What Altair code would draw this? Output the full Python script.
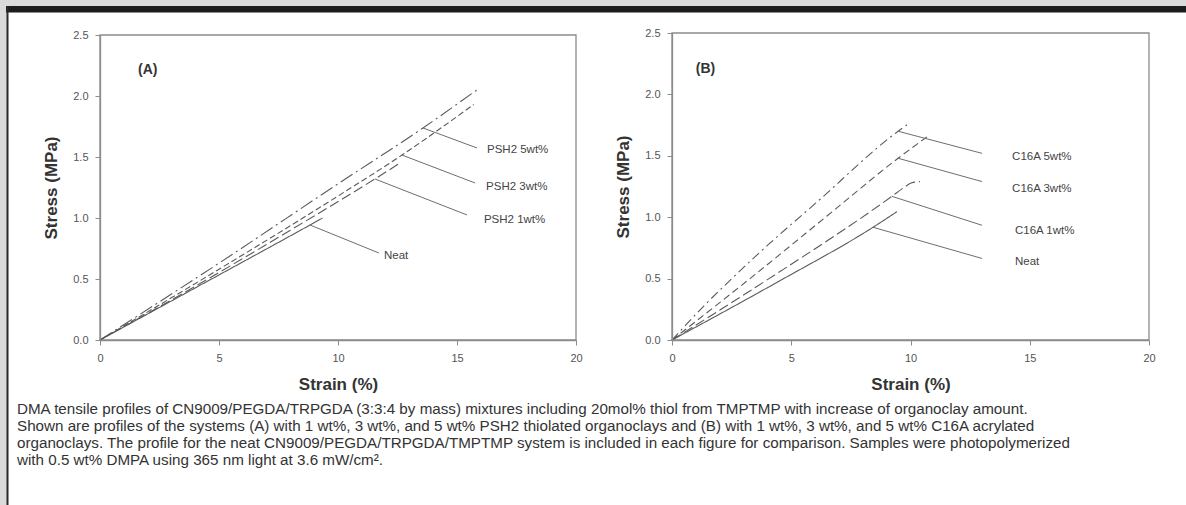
import altair as alt
import pandas as pd

# ---------------- data ----------------
STRAIN_TICKS = [0, 5, 10, 15, 20]
STRESS_TICKS = [0.0, 0.5, 1.0, 1.5, 2.0, 2.5]

# Panel (A)
A_NAMES = ["Neat", "PSH2 1wt%", "PSH2 3wt%", "PSH2 5wt%"]
A_NEAT_X = [0, 3, 6, 8.8, 9.35]
A_NEAT_Y = [0, 0.32, 0.64, 0.94, 1.00]
A_1_X = [0, 4, 8, 11.55, 12.6]
A_1_Y = [0, 0.44, 0.90, 1.32, 1.45]
A_3_X = [0, 5, 10, 12.69, 15.7]
A_3_Y = [0, 0.58, 1.18, 1.516, 1.93]
A_5_X = [0, 5, 10, 13.57, 15.84]
A_5_Y = [0, 0.63, 1.28, 1.738, 2.05]
A_LEAD_X = [8.82, 11.55, 12.69, 13.57]
A_LEAD_Y = [0.943, 1.320, 1.516, 1.738]
A_LEAD_X2 = [11.72, 15.42, 15.76, 15.84]
A_LEAD_Y2 = [0.713, 1.025, 1.287, 1.574]
A_LABEL_X = [11.93, 16.13, 16.22, 16.26]
A_LABEL_Y = [0.689, 0.984, 1.254, 1.557]

# Panel (B)
B_NAMES = ["Neat", "C16A 1wt%", "C16A 3wt%", "C16A 5wt%"]
B_NEAT_X = [0, 4.5, 8.43, 9.43]
B_NEAT_Y = [0, 0.48, 0.918, 1.045]
B_1_X = [0, 4.07, 9.22, 9.75, 10.05, 10.4]
B_1_Y = [0, 0.50, 1.17, 1.245, 1.28, 1.29]
B_3_X = [0, 3.27, 6.5, 9.48, 10.8]
B_3_Y = [0, 0.50, 1.01, 1.48, 1.67]
B_5_X = [0, 1.2, 2.4, 4.0, 6.0, 9.48, 9.98]
B_5_Y = [0, 0.25, 0.48, 0.77, 1.11, 1.70, 1.77]
B_LEAD_X = [8.43, 9.22, 9.48, 9.48]
B_LEAD_Y = [0.918, 1.17, 1.48, 1.70]
B_LEAD_X2 = [13.0, 13.0, 13.0, 13.0]
B_LEAD_Y2 = [0.664, 0.934, 1.29, 1.52]
B_LABEL_X = [14.38, 14.38, 14.26, 14.26]
B_LABEL_Y = [0.639, 0.885, 1.23, 1.49]

CAPTION = [
    "DMA tensile profiles of CN9009/PEGDA/TRPGDA (3:3:4 by mass) mixtures including 20mol% thiol from TMPTMP with increase of organoclay amount.",
    "Shown are profiles of the systems (A) with 1 wt%, 3 wt%, and 5 wt% PSH2 thiolated organoclays and (B) with 1 wt%, 3 wt%, and 5 wt% C16A acrylated",
    "organoclays. The profile for the neat CN9009/PEGDA/TRPGDA/TMPTMP system is included in each figure for comparison. Samples were photopolymerized",
    "with 0.5 wt% DMPA using 365 nm light at 3.6 mW/cm\u00b2.",
]

# ---------------- styling ----------------
W, H = 1186, 505
FONT = "Liberation Sans"
FRAME = "#8c8c8c"
LINE = "#5a5a5a"
LEADER = "#6e6e6e"
LABEL = "#444444"
TICKLABEL = "#555555"
TITLE = "#333333"


def series_df(names, xs_list, ys_list):
    rows = []
    for name, xs, ys in zip(names, xs_list, ys_list):
        for i, (x, y) in enumerate(zip(xs, ys)):
            rows.append({"series": name, "strain": x, "stress": y, "order": i})
    return pd.DataFrame(rows)


def make_panel(tag, tag_xy, names, xs_list, ys_list, dashes,
               lx, ly, lx2, ly2, tx, ty, xr, yr):
    xsc = alt.Scale(domain=[0, 20], range=xr, nice=False, zero=False)
    ysc = alt.Scale(domain=[0, 2.5], range=yr, nice=False, zero=False)

    frame_df = pd.DataFrame({"x0": [0], "x1": [20], "y0": [0], "y1": [2.5]})
    frame = alt.Chart(frame_df).mark_rect(
        fillOpacity=0, stroke=FRAME, strokeWidth=1.3
    ).encode(
        x=alt.X("x0:Q", scale=xsc, axis=alt.Axis(
            orient="bottom", offset=yr[0] - H, values=STRAIN_TICKS, format="d",
            title="Strain (%)", grid=False, zindex=1,
            domainColor=FRAME, domainWidth=1.3, tickColor=FRAME, tickSize=5,
            labelFont=FONT, labelFontSize=11, labelColor=TICKLABEL, labelPadding=7,
            labelFlush=False,
            titleFont=FONT, titleFontSize=17, titleFontWeight="bold",
            titleColor=TITLE, titlePadding=13)),
        x2="x1:Q",
        y=alt.Y("y0:Q", scale=ysc, axis=alt.Axis(
            orient="left", offset=-xr[0], values=STRESS_TICKS, format=".1f",
            title="Stress (MPa)", grid=False, zindex=1,
            domainColor=FRAME, domainWidth=1.3, tickColor=FRAME, tickSize=5,
            labelFont=FONT, labelFontSize=11, labelColor=TICKLABEL, labelPadding=7,
            labelFlush=False,
            titleFont=FONT, titleFontSize=17, titleFontWeight="bold",
            titleColor=TITLE, titlePadding=12)),
        y2="y1:Q",
    )

    lines = alt.Chart(series_df(names, xs_list, ys_list)).mark_line(
        color=LINE, strokeWidth=1.1, interpolate="monotone"
    ).encode(
        x=alt.X("strain:Q", scale=xsc, axis=None),
        y=alt.Y("stress:Q", scale=ysc, axis=None),
        detail="series:N",
        order="order:Q",
        strokeDash=alt.StrokeDash("series:N", scale=alt.Scale(domain=names, range=dashes), legend=None),
    )

    lead_df = pd.DataFrame({"x": lx, "y": ly, "x2": lx2, "y2": ly2})
    leaders = alt.Chart(lead_df).mark_rule(color=LEADER, strokeWidth=1).encode(
        x=alt.X("x:Q", scale=xsc, axis=None),
        y=alt.Y("y:Q", scale=ysc, axis=None),
        x2="x2:Q",
        y2="y2:Q",
    )

    lab_df = pd.DataFrame({"x": tx, "y": ty, "label": names})
    labels = alt.Chart(lab_df).mark_text(
        align="left", baseline="middle", font=FONT, fontSize=11.5, color=LABEL
    ).encode(
        x=alt.X("x:Q", scale=xsc, axis=None),
        y=alt.Y("y:Q", scale=ysc, axis=None),
        text="label:N",
    )

    tag_df = pd.DataFrame({"x": [tag_xy[0]], "y": [tag_xy[1]], "t": [tag]})
    tagc = alt.Chart(tag_df).mark_text(
        align="left", baseline="middle", font=FONT, fontSize=14,
        fontWeight="bold", color=TITLE
    ).encode(
        x=alt.X("x:Q", scale=xsc, axis=None),
        y=alt.Y("y:Q", scale=ysc, axis=None),
        text="t:N",
    )
    return [frame, lines, leaders, labels, tagc]


one = pd.DataFrame({"a": [0]})
bg = alt.Chart(one).mark_rect(color="white").encode(
    x=alt.value(7), x2=alt.value(W), y=alt.value(12), y2=alt.value(H))
header = alt.Chart(one).mark_rect(color="#1c1c1c").encode(
    x=alt.value(6), x2=alt.value(W), y=alt.value(6), y2=alt.value(12.5))
border = alt.Chart(one).mark_rect(color="#2a2a2a").encode(
    x=alt.value(6.5), x2=alt.value(8.5), y=alt.value(6), y2=alt.value(H))

cap_df = pd.DataFrame({"t": ["\n".join(CAPTION)]})
caption = alt.Chart(cap_df).mark_text(
    align="left", baseline="top", font=FONT, fontSize=15.2, color="#333333",
    lineBreak="\n", lineHeight=17
).encode(x=alt.value(17), y=alt.value(402), text="t:N")

panel_a = make_panel(
    "(A)", (1.6, 2.21), A_NAMES,
    [A_NEAT_X, A_1_X, A_3_X, A_5_X], [A_NEAT_Y, A_1_Y, A_3_Y, A_5_Y],
    [[1, 0], [10, 4], [6, 3], [14, 4, 2, 4]],
    A_LEAD_X, A_LEAD_Y, A_LEAD_X2, A_LEAD_Y2, A_LABEL_X, A_LABEL_Y,
    [100, 576], [340, 35])
panel_b = make_panel(
    "(B)", (1.0, 2.21), B_NAMES,
    [B_NEAT_X, B_1_X, B_3_X, B_5_X], [B_NEAT_Y, B_1_Y, B_3_Y, B_5_Y],
    [[1, 0], [10, 4], [7, 4], [9, 4, 2, 4]],
    B_LEAD_X, B_LEAD_Y, B_LEAD_X2, B_LEAD_Y2, B_LABEL_X, B_LABEL_Y,
    [672, 1149], [340, 33])

chart = alt.layer(bg, header, border, caption, *panel_a, *panel_b).resolve_scale(
    x="independent", y="independent", strokeDash="independent"
).properties(
    width=W, height=H, padding=0, background="#dadada",
    autosize=alt.AutoSizeParams(type="none"),
).configure_view(stroke="transparent")

chart.save("out.html", embed_options={"renderer": "svg", "actions": False})
